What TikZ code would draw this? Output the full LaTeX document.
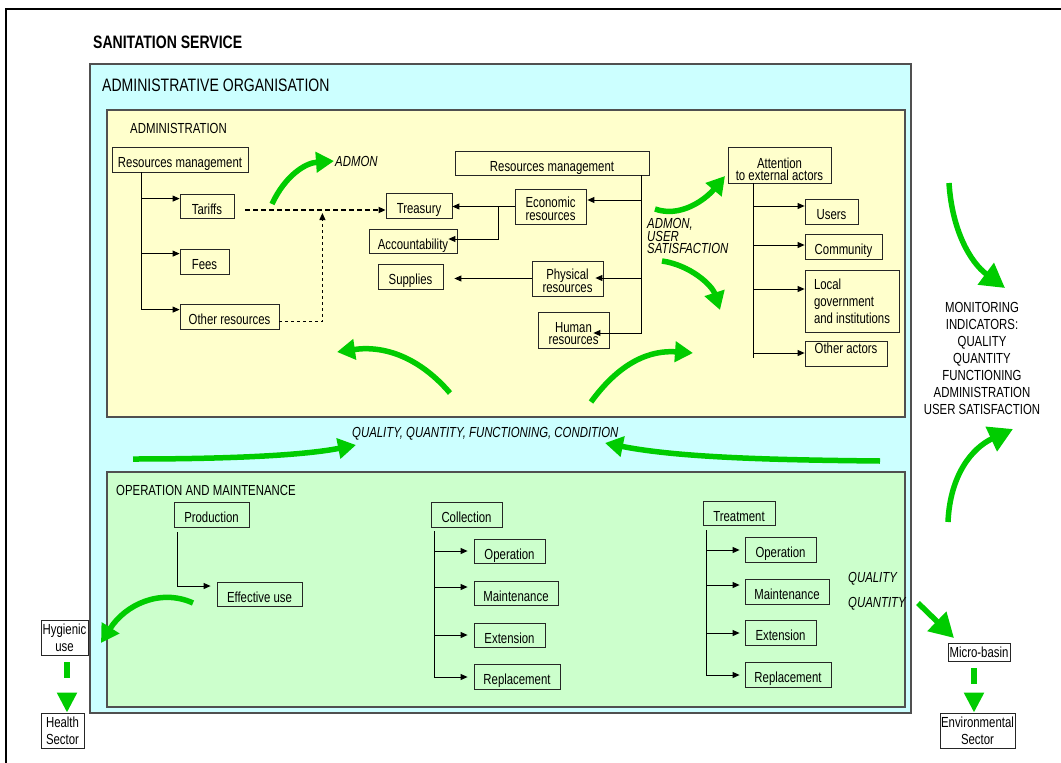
\documentclass[tikz,border=0pt]{standalone}
\usepackage{fontspec}
\setmainfont{Liberation Sans}[FakeStretch=0.78]
\usetikzlibrary{arrows.meta,calc}

\definecolor{orgcyan}{RGB}{204,255,255}
\definecolor{admyellow}{RGB}{255,255,204}
\definecolor{omgreen}{RGB}{204,255,204}
\definecolor{flowgreen}{RGB}{0,204,0}
\definecolor{edgegray}{RGB}{80,80,80}

\newcommand\fsn{\fontsize{14.6}{17}\selectfont}
\newcommand\fst{\fontsize{14.6}{12.6}\selectfont}
\newcommand\fsl{\fontsize{18}{20}\selectfont}
% invisible strut that lowers a two-line box text a little
\newcommand\lowr[1]{\rule{0pt}{#1}}

% box: name, x1, y1, x2, y2, text
\newcommand\bx[7][oneline]{%
  \node[stepbox,#1,minimum width={#5-#3},minimum height={#6-#4}] (#2)
    at ({(#3+#5)/2},{(#4+#6)/2}) {#7};}

\begin{document}
\begin{tikzpicture}[x=1pt,y=-1pt,
  stepbox/.style={draw=black!85, line width=0.8pt, inner sep=0pt, font=\fsn},
  oneline/.style={text height=16pt, text depth=0pt},
  conn/.style={line width=0.9pt, -{Triangle[length=7pt,width=6pt]}},
  trunk/.style={line width=0.9pt},
  garrow/.style={draw=flowgreen, line width=5.5pt, -{Triangle[length=18pt,width=20pt]}},
  gbig/.style={draw=flowgreen, line width=5.5pt, -{Triangle[length=24pt,width=26pt]}},
  gdash/.style={draw=flowgreen, line width=5.5pt, dash pattern=on 16pt off 40pt,
    shorten <=7pt, -{Triangle[length=20pt,width=19pt]}},
  ital/.style={font=\fsn\itshape, inner sep=0pt},
  lbl/.style={inner sep=0pt, anchor=base west}
]
\useasboundingbox (0,0) rectangle (1061,763);

% outer frame
\draw[line width=2pt] (6,9) rectangle (1090,790);

\node[lbl, font=\fsl\bfseries] (title) at (93,48) {SANITATION SERVICE};

% containers
\draw[edgegray, line width=1.5pt, fill=orgcyan] (90,64) rectangle (911,713);
\draw[edgegray, line width=1.2pt, fill=admyellow] (107,110) rectangle (905,417);
\draw[edgegray, line width=1.2pt, fill=omgreen] (107,472) rectangle (905,707);

\node[lbl, font=\fsl] (orglbl) at (102,91) {ADMINISTRATIVE ORGANISATION};
\node[lbl, font=\fsn] (admlbl) at (130,133) {ADMINISTRATION};
\node[lbl, font=\fsn] (omlbl) at (116,495) {OPERATION AND MAINTENANCE};

% administration boxes
\bx{rmA}{112}{147}{248}{172}{Resources management}
\bx{tariffs}{180}{194}{234}{218}{Tariffs}
\bx{fees}{180}{249}{229}{274}{Fees}
\bx{otherres}{180}{304}{279}{329}{Other resources}
\bx{treasury}{386}{193}{452}{218}{Treasury}
\bx{account}{369}{229}{457}{253}{Accountability}
\bx{supplies}{378}{264}{443}{289}{Supplies}
\bx{rmB}{455}{151}{649}{175}{Resources management}
\bx[align=center,font=\fst]{econ}{515}{189}{586}{224}{\lowr{15pt}Economic\\resources}
\bx[align=center,font=\fst]{phys}{532}{261}{603}{296}{\lowr{15pt}Physical\\resources}
\bx[align=center,font=\fst]{human}{538}{312}{609}{348}{\lowr{17pt}Human\\resources}
\bx[align=center,font=\fontsize{14.6}{12.6}\selectfont]{att}{728}{147}{831}{183}{\lowr{19pt}Attention\\to external actors}
\bx{users}{805}{199}{858}{224}{Users}
\bx{community}{805}{234}{882}{259}{Community}
\bx[align=left]{localgov}{805}{270}{899}{332}{Local\\government\\and institutions}
\bx[text height=9pt,text depth=10pt]{otheract}{805}{341}{887}{366}{Other actors}

% operation and maintenance boxes
\bx{prod}{174}{502}{249}{527}{Production}
\bx{effuse}{217}{582}{302}{606}{Effective use}
\bx{coll}{431}{502}{502}{527}{Collection}
\bx{cop}{474}{539}{545}{563}{Operation}
\bx{cmaint}{474}{581}{558}{605}{Maintenance}
\bx{cext}{474}{623}{545}{647}{Extension}
\bx{crepl}{474}{664}{560}{689}{Replacement}
\bx{treat}{703}{501}{775}{525}{Treatment}
\bx{trop}{745}{537}{816}{562}{Operation}
\bx{tmaint}{745}{579}{829}{604}{Maintenance}
\bx{trext}{745}{620}{816}{645}{Extension}
\bx{trepl}{745}{662}{831}{687}{Replacement}

% outside sectors
\bx[align=center]{hyg}{41}{620}{88}{655}{Hygienic\\use}
\bx[align=center]{health}{41}{713}{84}{748}{Health\\Sector}
\bx[text height=11pt,text depth=1pt]{micro}{948}{643}{1010}{661}{Micro-basin}
\bx[align=center]{env}{940}{713}{1015}{748}{Environmental\\Sector}

% left resources tree
\coordinate (lt) at ($(rmA.south west)+(30,0)$);
\draw[conn] (lt) |- ($(tariffs.north west)+(0,5)$);
\draw[conn] (lt) |- ($(fees.north west)+(0,5)$);
\draw[conn] (lt) |- ($(otherres.north west)+(0,6)$);

% income flows into the treasury
\coordinate (d1) at ($(tariffs.east)+(11,4)$);
\draw[conn, line width=1.6pt, dash pattern=on 5pt off 3pt] (d1) -- (d1 -| treasury.west);
\coordinate (d2) at ($(otherres.east)+(0,5)$);
\draw[conn, dash pattern=on 3pt off 3pt] (d2) -| ($(d1)+(77,3)$);

% right resources tree
\coordinate (rt) at ($(rmB.south east)+(-8,0)$);
\draw[conn] (rt) |- ($(econ.east)+(1,-6.5)$);
\draw[conn] (rt) |- ($(phys.east)+(-8,-0.5)$);
\draw[conn] (rt) |- ($(human.east)+(-16,3)$);
\coordinate (eb) at ($(econ.west)+(-16,0)$);
\draw[conn] (econ.west) -- (econ.west -| treasury.east);
\draw[conn] (eb) |- ($(account.east)+(-9,-2)$);
\draw[conn] (phys.west) -- ($(phys.west -| supplies.east)+(11,0)$);

% external actors tree
\coordinate (at) at ($(att.south west)+(26,0)$);
\draw[trunk] (at) -- ++(0,175);
\foreach \n/\dy in {users/-5.5, community/-1.5, localgov/-12, otheract/-0.5}
  \draw[conn] ($(at |- \n.west)+(0,\dy)$) -- ($(\n.west)+(0,\dy)$);

% collection tree
\coordinate (ct) at ($(coll.south west)+(4,4)$);
\foreach \n/\dy in {cop/0, cmaint/-6, cext/0, crepl/0.5}
  \draw[conn] (ct) |- ($(\n.west)+(-6,\dy)$);

% treatment tree
\coordinate (tt) at ($(treat.south west)+(4,5)$);
\foreach \n/\dy in {trop/0.5, tmaint/-6.5, trext/0.5, trepl/0.5}
  \draw[conn] (tt) |- ($(\n.west)+(-5,\dy)$);

% production
\coordinate (pt) at ($(prod.south west)+(4,5)$);
\draw[conn] (pt) |- ($(effuse.west)+(-6,-8)$);

% flow labels
\node[ital, anchor=base west] (admon) at (335,166) {ADMON};
\node[ital, anchor=west, align=left, font=\fontsize{14.6}{12.7}\selectfont\itshape] (admonus) at (647,236) {ADMON,\\USER\\SATISFACTION};
\node[ital, anchor=base west] (qqfc) at (352,437) {QUALITY, QUANTITY, FUNCTIONING, CONDITION};
\node[ital, anchor=base west] (qual) at (848,582) {QUALITY};
\node[ital, anchor=base west] (quant) at (848,607) {QUANTITY};
\node[font=\fsn, align=center, inner sep=0pt] (monitor) at (982,358)
  {MONITORING\\INDICATORS:\\QUALITY\\QUANTITY\\FUNCTIONING\\ADMINISTRATION\\USER SATISFACTION};

% green flow arrows
\draw[garrow] (272,204) .. controls (285,176) and (305,163) .. (334,161);
\draw[garrow] (655,209) .. controls (680,218) and (705,200) .. (725,176);
\draw[garrow] (662,261) .. controls (690,265) and (712,285) .. (720,310);
\draw[garrow] (450,393) .. controls (420,358) and (385,345) .. (337,352);
\draw[garrow] (591,402) .. controls (620,362) and (650,350) .. (693,353);
\draw[garrow] (133,459) .. controls (220,459) and (300,456) .. (356,445);
\draw[garrow] (880,461) .. controls (780,460) and (680,458) .. (605,443);
\draw[gbig] (949,183) .. controls (952,230) and (970,262) .. (1005,288);
\draw[gbig] (948,522) .. controls (950,475) and (972,448) .. (1013,429);
\draw[garrow] (193,603) .. controls (160,588) and (125,605) .. (101,643);
\draw[gbig] (918,603) -- (954,638);

% spill-over to other sectors
\coordinate (hs) at ($(hyg.south)+(2.5,0)$);
\draw[gdash] (hs) -- (hs |- health.north);
\coordinate (ms) at ($(micro.south)+(-5,0)$);
\draw[gdash] (ms) -- (ms |- env.north);
\end{tikzpicture}
\end{document}
